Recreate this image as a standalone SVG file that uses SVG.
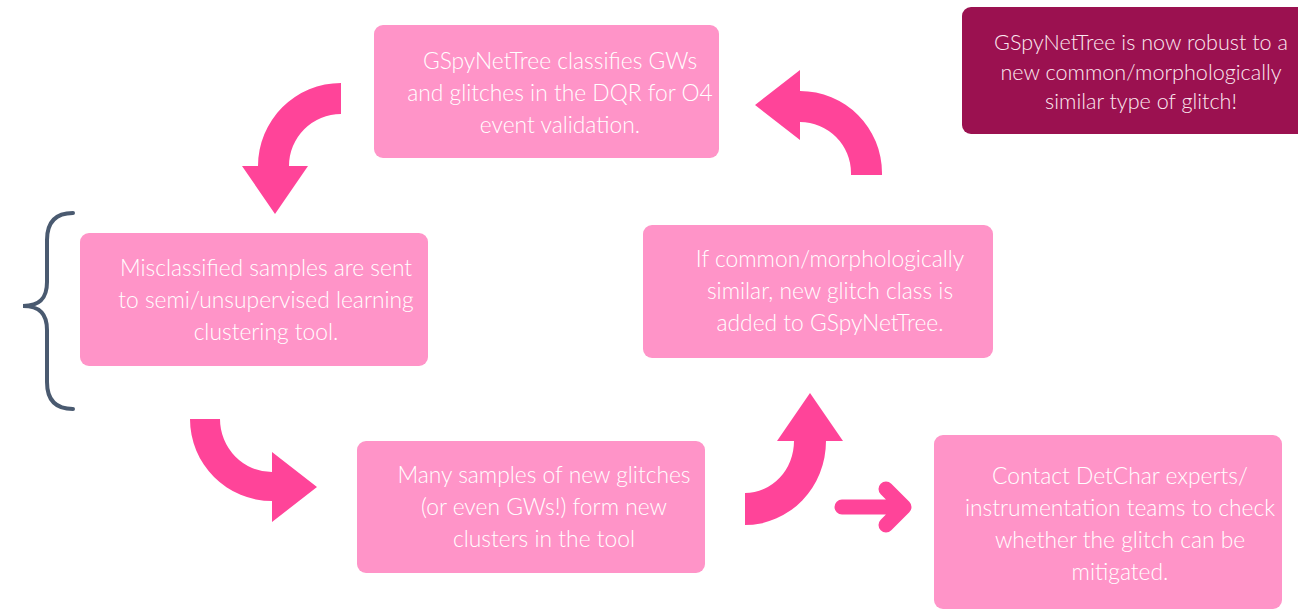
<svg xmlns="http://www.w3.org/2000/svg" width="1298" height="611" viewBox="0 0 1298 611">
<style>
.box{fill:#ff94c8;}
.dark{fill:#9b1150;}
.t{font-family:Lato,"Noto Sans","Liberation Sans",sans-serif;font-weight:300;font-size:22.8px;fill:#ffffff;text-anchor:middle;}
.td{font-family:Lato,"Noto Sans","Liberation Sans",sans-serif;font-weight:300;font-size:21.6px;fill:#fbe9f1;text-anchor:middle;}
.arr{fill:#ff4499;}
.brace{fill:none;stroke:#4a5a70;stroke-width:4;stroke-linecap:round;}
</style>
<rect width="1298" height="611" fill="#ffffff"/>
<g id="n1">
<rect class="box" x="374" y="25" width="345" height="133" rx="9"/>
<text class="t" x="560" y="69">GSpyNetTree classifies GWs</text>
<text class="t" x="560" y="101">and glitches in the DQR for O4</text>
<text class="t" x="560" y="133">event validation.</text>
</g>
<g id="n2">
<rect class="box" x="80" y="233" width="348" height="133" rx="9"/>
<text class="t" x="266" y="276">Misclassified samples are sent</text>
<text class="t" x="266" y="308">to semi/unsupervised learning</text>
<text class="t" x="266" y="340">clustering tool.</text>
</g>
<g id="n3">
<rect class="box" x="357" y="441" width="348" height="132" rx="9"/>
<text class="t" x="544" y="483">Many samples of new glitches</text>
<text class="t" x="544" y="515">(or even GWs!) form new</text>
<text class="t" x="544" y="547">clusters in the tool</text>
</g>
<g id="n4">
<rect class="box" x="643" y="225" width="350" height="133" rx="9"/>
<text class="t" x="830" y="267">If common/morphologically</text>
<text class="t" x="830" y="299">similar, new glitch class is</text>
<text class="t" x="830" y="331">added to GSpyNetTree.</text>
</g>
<g id="n5">
<rect class="box" x="934" y="435" width="348" height="174" rx="9"/>
<text class="t" x="1120" y="484">Contact DetChar experts/</text>
<text class="t" x="1120" y="516">instrumentation teams to check</text>
<text class="t" x="1120" y="548">whether the glitch can be</text>
<text class="t" x="1120" y="580">mitigated.</text>
</g>
<g id="n6">
<rect class="dark" x="962" y="7" width="346" height="127" rx="9"/>
<text class="td" x="1141" y="50">GSpyNetTree is now robust to a</text>
<text class="td" x="1141" y="80">new common/morphologically</text>
<text class="td" x="1141" y="109">similar type of glitch!</text>
</g>
<g id="brace">
<path class="brace" d="M73,213 C56,213 47,222 47,240 L47,282 C47,298 40,306 23,306 C40,306 47,314 47,330 L47,382 C47,400 56,409 73,409"/>
</g>
<g id="connectors">
<path class="arr" d="M341,83 A83,83 0 0 0 258,166 L242,166 L275,214 L308,166 L289,166 A52,52 0 0 1 341,114 Z"/>
<path class="arr" d="M882,175 L882,173 A82,82 0 0 0 800,91 L800,70 L755,105 L800,140 L800,122 A51,51 0 0 1 851,173 L851,175 Z"/>
<path class="arr" d="M190,419 A82,82 0 0 0 272,501 L272,522 L317,487 L272,452 L272,472 A52,53 0 0 1 220,419 Z"/>
<path class="arr" d="M745,525 A81,84 0 0 0 826,441 L843,441 L810,393 L777,441 L794,441 A49,52 0 0 1 745,493 Z"/>
<path d="M842,507 L904,507 M886,489 L904,507 L886,525" fill="none" stroke="#ff4499" stroke-width="15" stroke-linecap="round" stroke-linejoin="round"/>
</g>
</svg>
